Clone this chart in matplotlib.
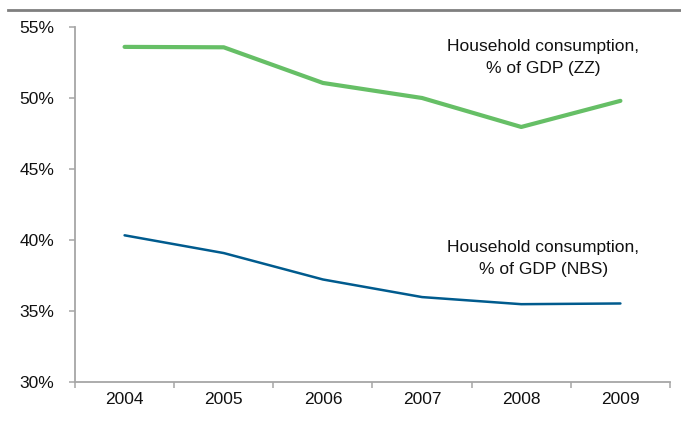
import matplotlib.pyplot as plt
from matplotlib.lines import Line2D
from matplotlib.ticker import FuncFormatter

plt.rcParams['font.family'] = ['Liberation Sans', 'DejaVu Sans']

years = ["2004", "2005", "2006", "2007", "2008", "2009"]
zz = [53.6, 53.57, 51.06, 50.0, 47.96, 49.8]
nbs = [40.33, 39.08, 37.22, 35.98, 35.48, 35.53]

W, H = 681, 421
fig = plt.figure(figsize=(W / 100, H / 100), dpi=100)
ax = fig.add_axes([75 / W, 1 - 382 / H, 595 / W, 355 / H])

x = range(len(years))
ax.plot(x, zz, color="#66bf66", lw=3.0, solid_capstyle="round")
ax.plot(x, nbs, color="#005b8e", lw=1.8, solid_capstyle="round")

ax.set_xlim(-0.5, len(years) - 0.5)
ax.set_ylim(30, 55)
ax.set_yticks(range(30, 56, 5))
ax.yaxis.set_major_formatter(FuncFormatter(lambda v, p: "%d%%" % v))
ax.set_xticks(list(x))
ax.set_xticklabels(years)
ax.set_xticks([i - 0.5 for i in range(len(years) + 1)], minor=True)

spine_col = "#a6a6a6"
for s in ("top", "right"):
    ax.spines[s].set_visible(False)
for s in ("left", "bottom"):
    ax.spines[s].set_color(spine_col)
    ax.spines[s].set_linewidth(1.3)

ax.tick_params(axis="x", which="major", length=0, pad=7, labelsize=12.5, labelcolor="#111111")
ax.tick_params(axis="x", which="minor", length=4, width=1.1, color=spine_col)
ax.tick_params(axis="y", length=4, width=1.1, color=spine_col, pad=11,
               labelsize=12.5, labelcolor="#111111")

ax.text(4.22, 52.85, "Household consumption,\n% of GDP (ZZ)", ha="center", va="center",
        fontsize=12.5, color="#111111", linespacing=1.65)
ax.text(4.22, 38.7, "Household consumption,\n% of GDP (NBS)", ha="center", va="center",
        fontsize=12.5, color="#111111", linespacing=1.6)

# grey rule across the top
fig.add_artist(Line2D([8 / W, 1], [1 - 10 / H, 1 - 10 / H], color="#7f7f7f", lw=2,
                      transform=fig.transFigure))

fig.savefig("out.png", dpi=100)
